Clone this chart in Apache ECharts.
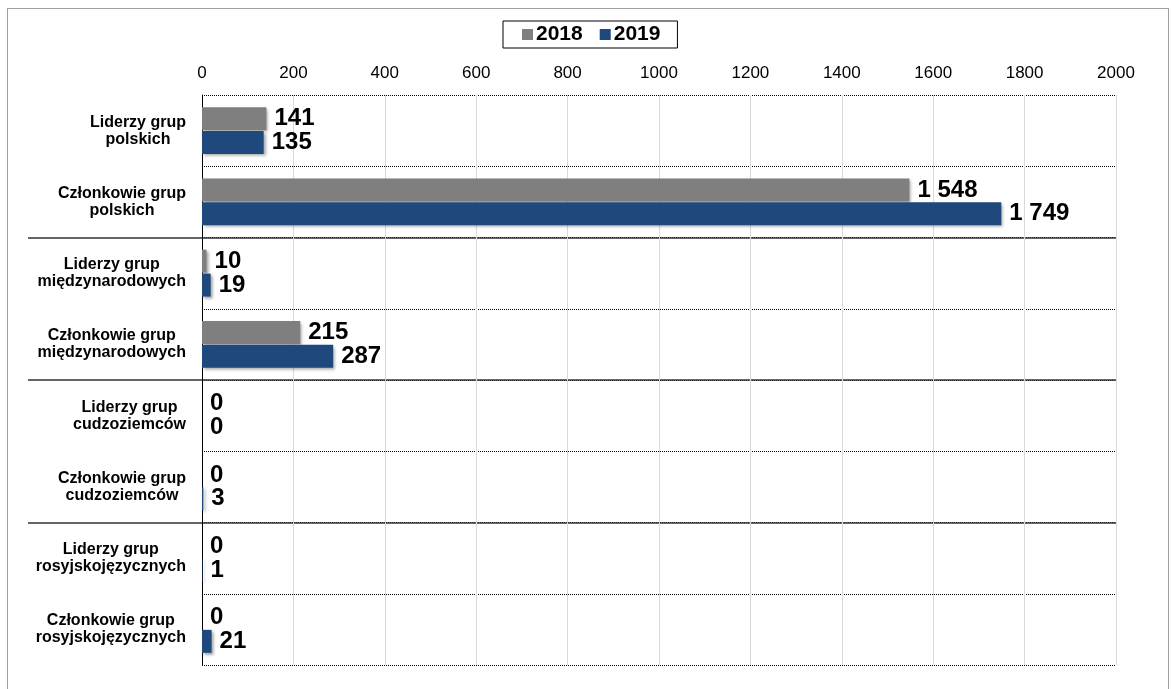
<!DOCTYPE html>
<html>
<head>
<meta charset="utf-8">
<script src="https://cdn.jsdelivr.net/npm/echarts@6/dist/echarts.min.js"></script>
<style>
  html, body { margin: 0; padding: 0; background: #fff; }
  #frame { position: absolute; left: 7px; top: 8px; width: 1160px; height: 700px; border: 1px solid #a0a0a0; }
  #chart { position: absolute; left: 0; top: 0; width: 1172px; height: 689px; }
</style>
</head>
<body>
<div id="frame"></div>
<div id="chart"></div>
<script>
const categories = [
  'Liderzy grup\npolskich',
  'Członkowie grup\npolskich',
  'Liderzy grup\nmiędzynarodowych',
  'Członkowie grup\nmiędzynarodowych',
  'Liderzy grup\ncudzoziemców',
  'Członkowie grup\ncudzoziemców',
  'Liderzy grup\nrosyjskojęzycznych',
  'Członkowie grup\nrosyjskojęzycznych'
]
const values2018 = [141, 1548, 10, 215, 0, 0, 0, 0]
const values2019 = [135, 1749, 19, 287, 0, 3, 1, 21]
// row boundaries where a new group starts (solid separator)
const groupStarts = [2, 4, 6]
// boundaries between rows: 0 = top edge, categories.length = bottom edge
const boundaries = categories.map((_, i) => i).concat(categories.length)

const font = 'Arial, "Liberation Sans", sans-serif'
const fmt = v => String(v).replace(/\B(?=(\d{3})+(?!\d))/g, ' ')

const barLabel = {
  show: true,
  position: 'right',
  distance: 8,
  color: '#000',
  fontFamily: font,
  fontWeight: 'bold',
  fontSize: 24,
  formatter: p => fmt(p.value)
}
const barShadow = {
  shadowBlur: 3,
  shadowOffsetX: 2,
  shadowOffsetY: 2,
  shadowColor: 'rgba(0,0,0,0.35)'
}

const chart = echarts.init(document.getElementById('chart'))
chart.setOption({
  animation: false,
  textStyle: { fontFamily: font },
  legend: {
    top: 21,
    left: 503,
    itemWidth: 11,
    itemHeight: 11,
    itemGap: 17,
    padding: [3, 17, 3, 19],
    borderColor: '#000',
    borderWidth: 1,
    icon: 'rect',
    textStyle: { fontFamily: font, fontWeight: 'bold', fontSize: 21, color: '#000', padding: [0, 0, 0, -2] },
    data: ['2018', '2019']
  },
  grid: {
    left: 202,
    right: 56,
    top: 95,
    bottom: 24
  },
  xAxis: {
    type: 'value',
    position: 'top',
    min: 0,
    max: 2000,
    interval: 200,
    axisLine: { show: false },
    axisTick: { show: false },
    axisLabel: { color: '#000', fontSize: 17, fontFamily: font, margin: 13, formatter: v => String(v) },
    splitLine: { lineStyle: { color: '#d9d9d9', width: 1 } }
  },
  yAxis: [
    {
      type: 'category',
      inverse: true,
      data: categories,
      axisLine: { lineStyle: { color: '#000', width: 1 } },
      axisTick: { show: false },
      axisLabel: {
        margin: 16,
        formatter: v => v.split('\n').map(l => '{c|' + l + '}').join('\n'),
        rich: {
          c: { align: 'center', fontFamily: font, fontWeight: 'bold', fontSize: 16, color: '#000', lineHeight: 17 }
        }
      },
      splitLine: { show: true, lineStyle: { color: '#000', width: 1, type: [1, 1] } }
    },
    {
      type: 'category',
      inverse: true,
      position: 'left',
      boundaryGap: false,
      data: boundaries,
      axisLine: { show: false },
      axisLabel: { show: false },
      axisTick: {
        show: true,
        length: 174,
        interval: idx => groupStarts.includes(idx),
        lineStyle: { color: '#333', width: 1.5 }
      },
      splitLine: {
        show: true,
        interval: idx => groupStarts.includes(idx),
        lineStyle: { color: '#333', width: 1.5 }
      }
    }
  ],
  series: [
    {
      name: '2018',
      type: 'bar',
      barWidth: 23,
      barGap: '4%',
      itemStyle: Object.assign({ color: '#7f7f7f' }, barShadow),
      label: barLabel,
      data: values2018
    },
    {
      name: '2019',
      type: 'bar',
      barWidth: 23,
      itemStyle: Object.assign({ color: '#1f497d' }, barShadow),
      label: barLabel,
      data: values2019
    }
  ]
})
</script>
</body>
</html>
